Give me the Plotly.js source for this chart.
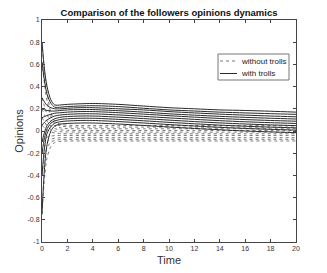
<!DOCTYPE html>
<html><head><meta charset="utf-8">
<script src="https://cdn.plot.ly/plotly-3.0.1.min.js"></script>
<style>html,body{margin:0;padding:0;background:#fff}#c{width:327px;height:273px}</style>
</head><body><div id="c"></div>
<script>
const time = [0,0.2,0.4,0.7,1,1.5,2,3,4,6,8,10,12,14,16,18,20];

const withTrolls = [
  [0.80,0.55,0.40,0.28,0.235,0.235,0.24,0.245,0.248,0.24,0.225,0.21,0.20,0.19,0.185,0.178,0.17],
  [0.62,0.45,0.33,0.25,0.215,0.215,0.22,0.225,0.228,0.22,0.205,0.19,0.18,0.17,0.163,0.156,0.15],
  [0.30,0.26,0.23,0.21,0.20,0.20,0.205,0.21,0.21,0.20,0.19,0.175,0.163,0.152,0.143,0.135,0.128],
  [0.20,0.19,0.185,0.18,0.18,0.185,0.19,0.193,0.193,0.183,0.17,0.155,0.143,0.132,0.123,0.115,0.108],
  [0.12,0.13,0.14,0.15,0.16,0.165,0.17,0.175,0.175,0.165,0.152,0.138,0.125,0.113,0.103,0.095,0.088],
  [0.05,0.08,0.10,0.12,0.135,0.145,0.15,0.155,0.155,0.145,0.132,0.118,0.105,0.093,0.083,0.075,0.068],
  [-0.10,-0.01,0.05,0.09,0.11,0.125,0.13,0.135,0.135,0.125,0.112,0.098,0.085,0.073,0.063,0.055,0.048],
  [-0.20,-0.06,0.02,0.07,0.09,0.105,0.11,0.115,0.115,0.105,0.092,0.078,0.065,0.053,0.043,0.035,0.028],
  [-0.40,-0.15,-0.02,0.04,0.07,0.085,0.09,0.095,0.095,0.085,0.072,0.058,0.045,0.033,0.023,0.015,0.008],
  [-0.75,-0.33,-0.12,0.0,0.045,0.063,0.068,0.072,0.072,0.063,0.05,0.036,0.023,0.011,0.0,-0.008,-0.015]
];

const withoutTrolls = [
  [0.80,0.52,0.34,0.17,0.09,0.06,0.052,0.05,0.05,0.05,0.05,0.05,0.05,0.05,0.05,0.05,0.05],
  [0.62,0.42,0.27,0.13,0.07,0.045,0.038,0.035,0.035,0.035,0.035,0.035,0.035,0.035,0.035,0.035,0.035],
  [0.30,0.22,0.15,0.08,0.045,0.027,0.022,0.02,0.02,0.02,0.02,0.02,0.02,0.02,0.02,0.02,0.02],
  [0.20,0.14,0.09,0.045,0.022,0.01,0.006,0.005,0.005,0.005,0.005,0.005,0.005,0.005,0.005,0.005,0.005],
  [0.12,0.08,0.045,0.015,0.0,-0.007,-0.009,-0.01,-0.01,-0.01,-0.01,-0.01,-0.01,-0.01,-0.01,-0.01,-0.01],
  [0.05,0.03,0.01,-0.01,-0.018,-0.023,-0.025,-0.025,-0.025,-0.025,-0.025,-0.025,-0.025,-0.025,-0.025,-0.025,-0.025],
  [-0.10,-0.07,-0.055,-0.046,-0.042,-0.04,-0.04,-0.04,-0.04,-0.04,-0.04,-0.04,-0.04,-0.04,-0.04,-0.04,-0.04],
  [-0.20,-0.14,-0.10,-0.075,-0.065,-0.061,-0.06,-0.06,-0.06,-0.06,-0.06,-0.06,-0.06,-0.06,-0.06,-0.06,-0.06],
  [-0.40,-0.24,-0.15,-0.10,-0.085,-0.077,-0.075,-0.075,-0.075,-0.075,-0.075,-0.075,-0.075,-0.075,-0.075,-0.075,-0.075],
  [-0.75,-0.42,-0.24,-0.14,-0.105,-0.093,-0.09,-0.09,-0.09,-0.09,-0.09,-0.09,-0.09,-0.09,-0.09,-0.09,-0.09]
];

const xTicks = [0,2,4,6,8,10,12,14,16,18,20];
const yTicks = [-1,-0.8,-0.6,-0.4,-0.2,0,0.2,0.4,0.6,0.8,1];
const yTickText = ['-1','-0.8','-0.6','-0.4','-0.2','0','0.2','0.4','0.6','0.8','1'];
const legendLabels = ['without trolls','with trolls'];

const FONT = 'Liberation Sans, Arial, sans-serif';
const DOT_COLOR = '#7a7a7a', SOLID_COLOR = '#2a2a2a';

const traces = [];
withoutTrolls.forEach((ys)=>traces.push({
  x: time, y: ys, type:'scatter', mode:'lines', showlegend:false,
  line:{color:DOT_COLOR, width:1, dash:'dot', shape:'spline', smoothing:0.8}
}));
withTrolls.forEach((ys)=>traces.push({
  x: time, y: ys, type:'scatter', mode:'lines', showlegend:false,
  line:{color:SOLID_COLOR, width:1, shape:'spline', smoothing:0.8}
}));

// plot area in pixels: left 42, right 296, top 20, bottom 242
const M = {l:42, r:31, t:20, b:31}, W = 327, H = 273;
const pw = W - M.l - M.r, ph = H - M.t - M.b;
const px = v => (v - M.l) / pw;
const py = v => (H - M.b - v) / ph;

// custom compact legend (MATLAB style)
const shapes = [
  {type:'rect', xref:'paper', yref:'paper', x0:px(218), x1:px(289), y0:py(80), y1:py(54),
   line:{color:'#777', width:1}, fillcolor:'#fff', layer:'above'},
  {type:'line', xref:'paper', yref:'paper', x0:px(220), x1:px(237), y0:py(61), y1:py(61),
   line:{color:DOT_COLOR, width:1, dash:'dot'}, layer:'above'},
  {type:'line', xref:'paper', yref:'paper', x0:px(220), x1:px(237), y0:py(73.5), y1:py(73.5),
   line:{color:SOLID_COLOR, width:1}, layer:'above'}
];
const annotations = [
  {xref:'paper', yref:'paper', x:px(238.5), y:py(61), xanchor:'left', yanchor:'middle', showarrow:false,
   text:legendLabels[0], font:{family:FONT, size:8, color:'#222'}},
  {xref:'paper', yref:'paper', x:px(238.5), y:py(73.5), xanchor:'left', yanchor:'middle', showarrow:false,
   text:legendLabels[1], font:{family:FONT, size:8, color:'#222'}}
];

const axisCommon = {
  showline:true, linecolor:'#444', linewidth:1, mirror:'ticks',
  ticks:'inside', ticklen:3, tickcolor:'#444', showgrid:false, zeroline:false,
  tickfont:{family:FONT, size:7, color:'#333'}
};

const layout = {
  width:W, height:H, margin:M,
  paper_bgcolor:'#fff', plot_bgcolor:'#fff',
  font:{family:FONT, color:'#222'},
  title:{text:'<b>Comparison of the followers opinions dynamics</b>', x:0.517, xanchor:'center', y:0.953, yanchor:'middle',
    font:{size:9.5, color:'#111'}},
  xaxis: Object.assign({}, axisCommon, {range:[0,20], tickvals:xTicks,
    title:{text:'Time', font:{size:11, color:'#333'}, standoff:4}}),
  yaxis: Object.assign({}, axisCommon, {range:[-1,1], tickvals:yTicks, ticktext:yTickText,
    title:{text:'Opinions', font:{size:11, color:'#333'}, standoff:1}}),
  shapes, annotations, showlegend:false
};

Plotly.newPlot('c', traces, layout, {displayModeBar:false, staticPlot:true});
</script>
</body></html>
